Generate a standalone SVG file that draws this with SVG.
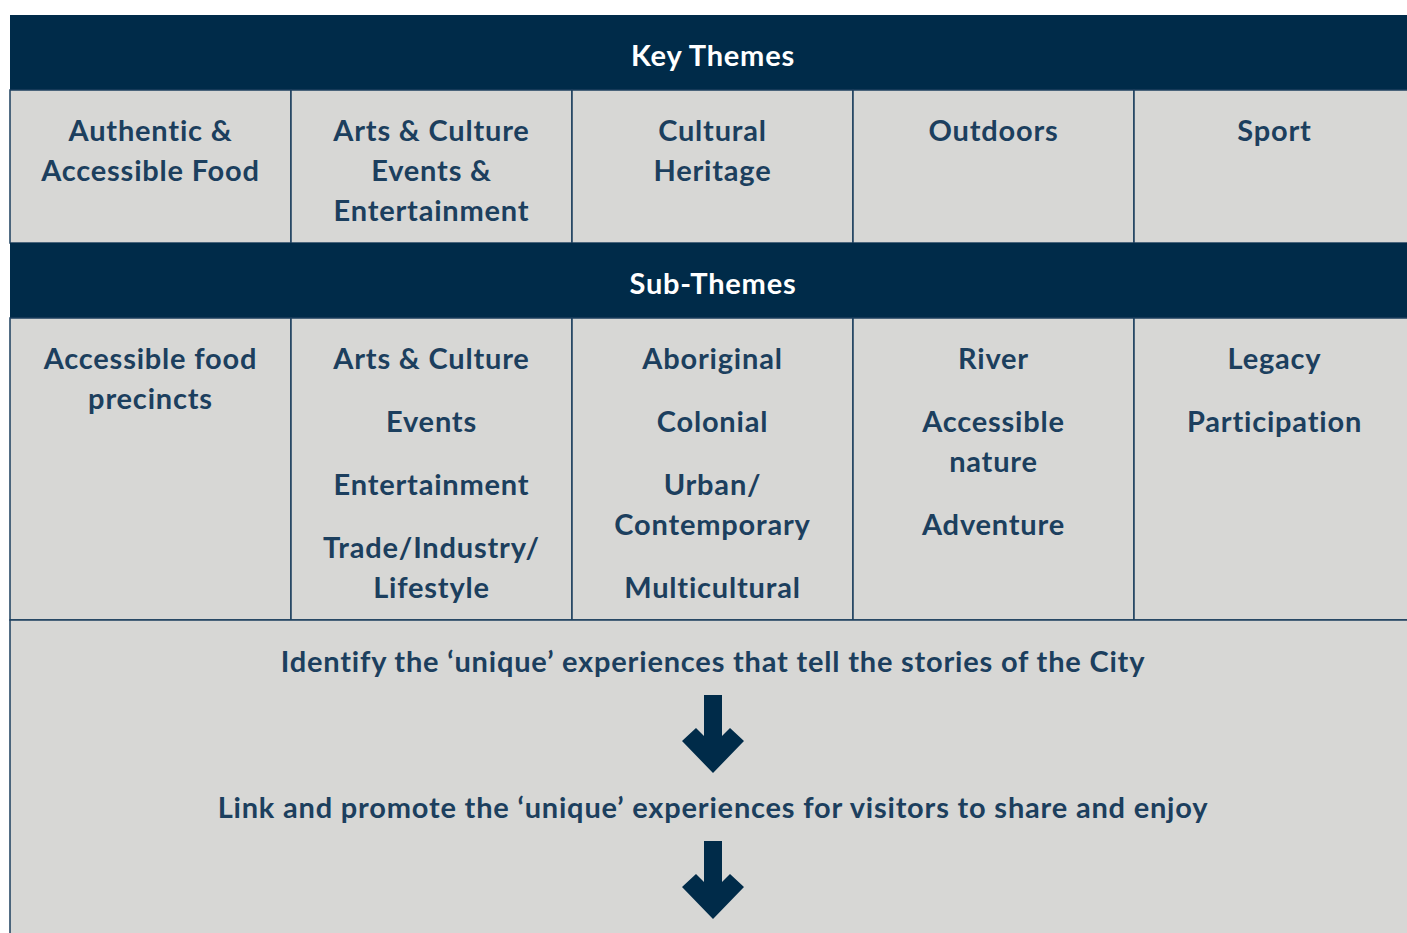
<svg xmlns="http://www.w3.org/2000/svg" width="1407" height="933" viewBox="0 0 1407 933">
<style>
.bar{fill:#002b49}
.cell{fill:#d7d7d5;stroke:#1c3f5e;stroke-width:1.5}
.h{font-family:Lato,"Liberation Sans",sans-serif;font-weight:700;font-size:29px;letter-spacing:0.8px;fill:#ffffff;text-anchor:middle}
.t{font-family:Lato,"Liberation Sans",sans-serif;font-weight:700;font-size:29px;letter-spacing:0.8px;fill:#1c3f5e;text-anchor:middle}
.arrow{fill:#002b49}
</style>
<defs>
<polygon id="arr" points="704,695 722,695 722,736 730,728 744,741 713,773 682,741 696,728 704,736"/>
</defs>
<rect width="1407" height="933" fill="#ffffff"/>
<g id="key-themes-header">
<rect class="bar" x="10" y="15" width="1407" height="75"/>
<text class="h" x="713" y="66">Key Themes</text>
</g>
<g id="kt-food"><rect class="cell" x="10" y="90" width="281" height="153"/>
<text class="t" x="150.5" y="141">Authentic &amp;</text><text class="t" x="150.5" y="181">Accessible Food</text></g>
<g id="kt-arts"><rect class="cell" x="291" y="90" width="281" height="153"/>
<text class="t" x="431.5" y="141">Arts &amp; Culture</text><text class="t" x="431.5" y="181">Events &amp;</text><text class="t" x="431.5" y="221">Entertainment</text></g>
<g id="kt-heritage"><rect class="cell" x="572" y="90" width="281" height="153"/>
<text class="t" x="712.5" y="141">Cultural</text><text class="t" x="712.5" y="181">Heritage</text></g>
<g id="kt-outdoors"><rect class="cell" x="853" y="90" width="281" height="153"/>
<text class="t" x="993.5" y="141">Outdoors</text></g>
<g id="kt-sport"><rect class="cell" x="1134" y="90" width="281" height="153"/>
<text class="t" x="1274.5" y="141">Sport</text></g>
<g id="sub-themes-header">
<rect class="bar" x="10" y="243" width="1407" height="75"/>
<text class="h" x="713" y="294">Sub-Themes</text>
</g>
<g id="st-food"><rect class="cell" x="10" y="318" width="281" height="302"/>
<text class="t" x="150.5" y="369">Accessible food</text><text class="t" x="150.5" y="409">precincts</text></g>
<g id="st-arts"><rect class="cell" x="291" y="318" width="281" height="302"/>
<text class="t" x="431.5" y="369">Arts &amp; Culture</text><text class="t" x="431.5" y="432">Events</text><text class="t" x="431.5" y="495">Entertainment</text><text class="t" x="431.5" y="558">Trade/Industry/</text><text class="t" x="431.5" y="598">Lifestyle</text></g>
<g id="st-heritage"><rect class="cell" x="572" y="318" width="281" height="302"/>
<text class="t" x="712.5" y="369">Aboriginal</text><text class="t" x="712.5" y="432">Colonial</text><text class="t" x="712.5" y="495">Urban/</text><text class="t" x="712.5" y="535">Contemporary</text><text class="t" x="712.5" y="598">Multicultural</text></g>
<g id="st-outdoors"><rect class="cell" x="853" y="318" width="281" height="302"/>
<text class="t" x="993.5" y="369">River</text><text class="t" x="993.5" y="432">Accessible</text><text class="t" x="993.5" y="472">nature</text><text class="t" x="993.5" y="535">Adventure</text></g>
<g id="st-sport"><rect class="cell" x="1134" y="318" width="281" height="302"/>
<text class="t" x="1274.5" y="369">Legacy</text><text class="t" x="1274.5" y="432">Participation</text></g>
<g id="flow-box"><rect class="cell" x="10" y="620" width="1410" height="330"/>
<text class="t" x="713" y="672">Identify the ‘unique’ experiences that tell the stories of the City</text>
<text class="t" x="713" y="818">Link and promote the ‘unique’ experiences for visitors to share and enjoy</text></g>
<g id="connectors">
<use href="#arr" class="arrow"/>
<use href="#arr" class="arrow" transform="translate(0,146)"/>
</g>
</svg>
